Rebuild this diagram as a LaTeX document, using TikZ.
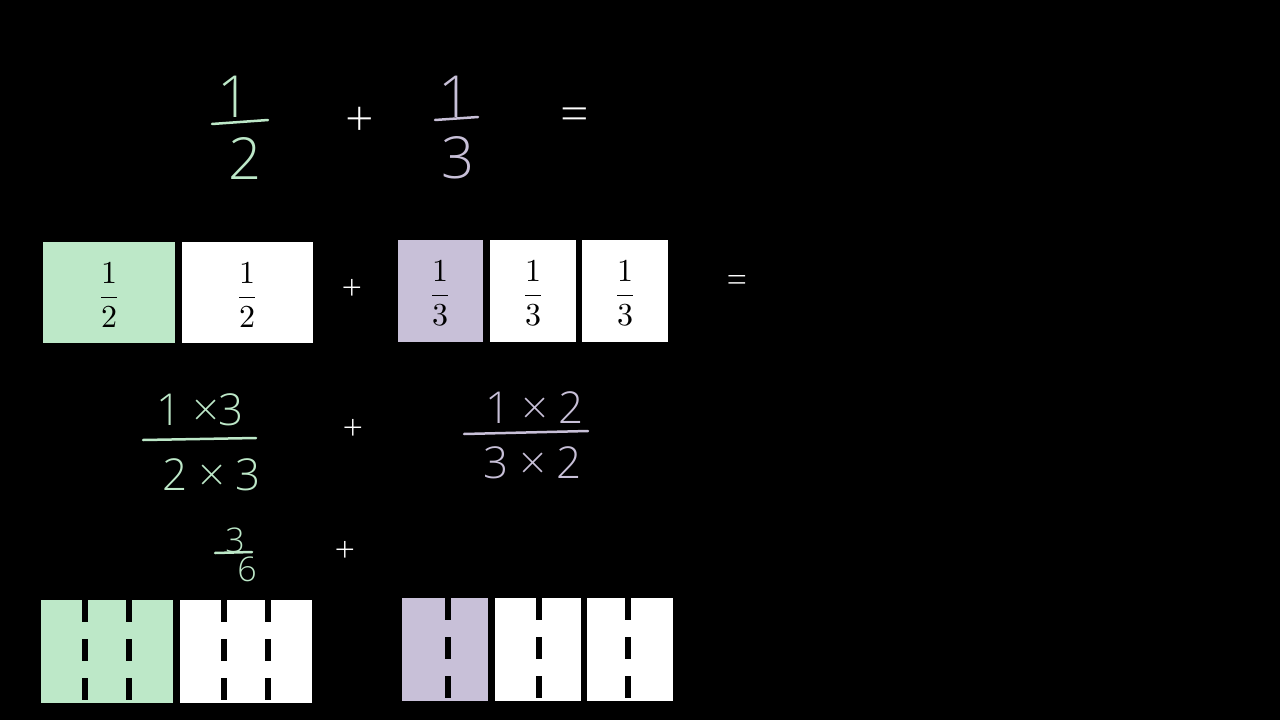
\documentclass[tikz,border=0pt]{standalone}
\usepackage{fontspec}
\newfontfamily\hand{Open Sans Light}
\definecolor{gr}{HTML}{BDE8C8}
\definecolor{pu}{HTML}{C8C0D8}
\begin{document}
\begin{tikzpicture}[x=1pt,y=-1pt,
  hg/.style={text=gr,font=\hand\fontsize{58}{60}\selectfont,inner sep=0pt},
  hp/.style={text=pu,font=\hand\fontsize{58}{60}\selectfont,inner sep=0pt},
  hw/.style={text=white,font=\hand\fontsize{50}{52}\selectfont,inner sep=0pt},
  mg/.style={text=gr,font=\hand\fontsize{44}{46}\selectfont,inner sep=0pt},
  mp/.style={text=pu,font=\hand\fontsize{44}{46}\selectfont,inner sep=0pt},
  pl/.style={text=white,font=\hand\fontsize{36}{38}\selectfont},
  fr/.style={scale=3.2,transform shape,inner sep=0pt},
  barg/.style={draw=gr,line width=2.5pt,line cap=round},
  barp/.style={draw=pu,line width=2.5pt,line cap=round},
  cut/.style={draw=black,line width=6pt,dash pattern=on 22pt off 17pt}]
\fill[black] (0,0) rectangle (1280,720);
\useasboundingbox (0,0) rectangle (1280,720);
% top handwritten
\node[hg] (n1) at (234,97) {1};
\draw[barg] (212,124) -- (268,120);
\node[hg] (d1) at (245,158) {2};
\node[hw] (p1) at (360,122) {+};
\node[hp] (n2) at (455,97) {1};
\draw[barp] (435,120) -- (478,117);
\node[hp] (d2) at (458,158) {3};
\node[hw] (e1) at (575,120) {=};
% row of boxes
\fill[gr] (43,242) rectangle (175,343);
\fill[white] (182,242) rectangle (313,343);
\fill[pu] (398,240) rectangle (483,342);
\fill[white] (490,240) rectangle (576,342);
\fill[white] (582,240) rectangle (668,342);
\node[fr] (b1) at (109,295) {$\displaystyle\frac{1}{2}$};
\node[fr] (b2) at (247,295) {$\displaystyle\frac{1}{2}$};
\node[fr] (b3) at (440,293) {$\displaystyle\frac{1}{3}$};
\node[fr] (b4) at (533,293) {$\displaystyle\frac{1}{3}$};
\node[fr] (b5) at (625,293) {$\displaystyle\frac{1}{3}$};
\node[pl] (p2) at (352,290) {+};
\node[pl] (e2) at (737,284) {=};
% middle
\node[mg] (m1) at (200,410) {1 ×3};
\draw[barg] (143,440) -- (256,438);
\node[mg] (m2) at (212,475) {2 × 3};
\node[pl] (p3) at (353,430) {+};
\node[mp] (m3) at (535,408) {1 × 2};
\draw[barp] (464,434) -- (588,431);
\node[mp] (m4) at (533,463) {3 × 2};
\node[text=gr,font=\hand\fontsize{34}{36}\selectfont,inner sep=0pt] (t3) at (235,540) {3};
\draw[barg] (215,553) -- (252,552);
\node[text=gr,font=\hand\fontsize{34}{36}\selectfont,inner sep=0pt] (t6) at (247,569) {6};
\node[pl] (p4) at (345,552) {+};
% bottom bars
\fill[gr] (41,600) rectangle (173,703);
\fill[white] (180,600) rectangle (312,703);
\fill[pu] (402,598) rectangle (488,701);
\fill[white] (495,598) rectangle (581,701);
\fill[white] (587,598) rectangle (673,701);
\foreach \x in {85,129,224,268} \draw[cut] (\x,600) -- (\x,703);
\foreach \x in {448,539,628} \draw[cut] (\x,598) -- (\x,701);
\end{tikzpicture}
\end{document}
